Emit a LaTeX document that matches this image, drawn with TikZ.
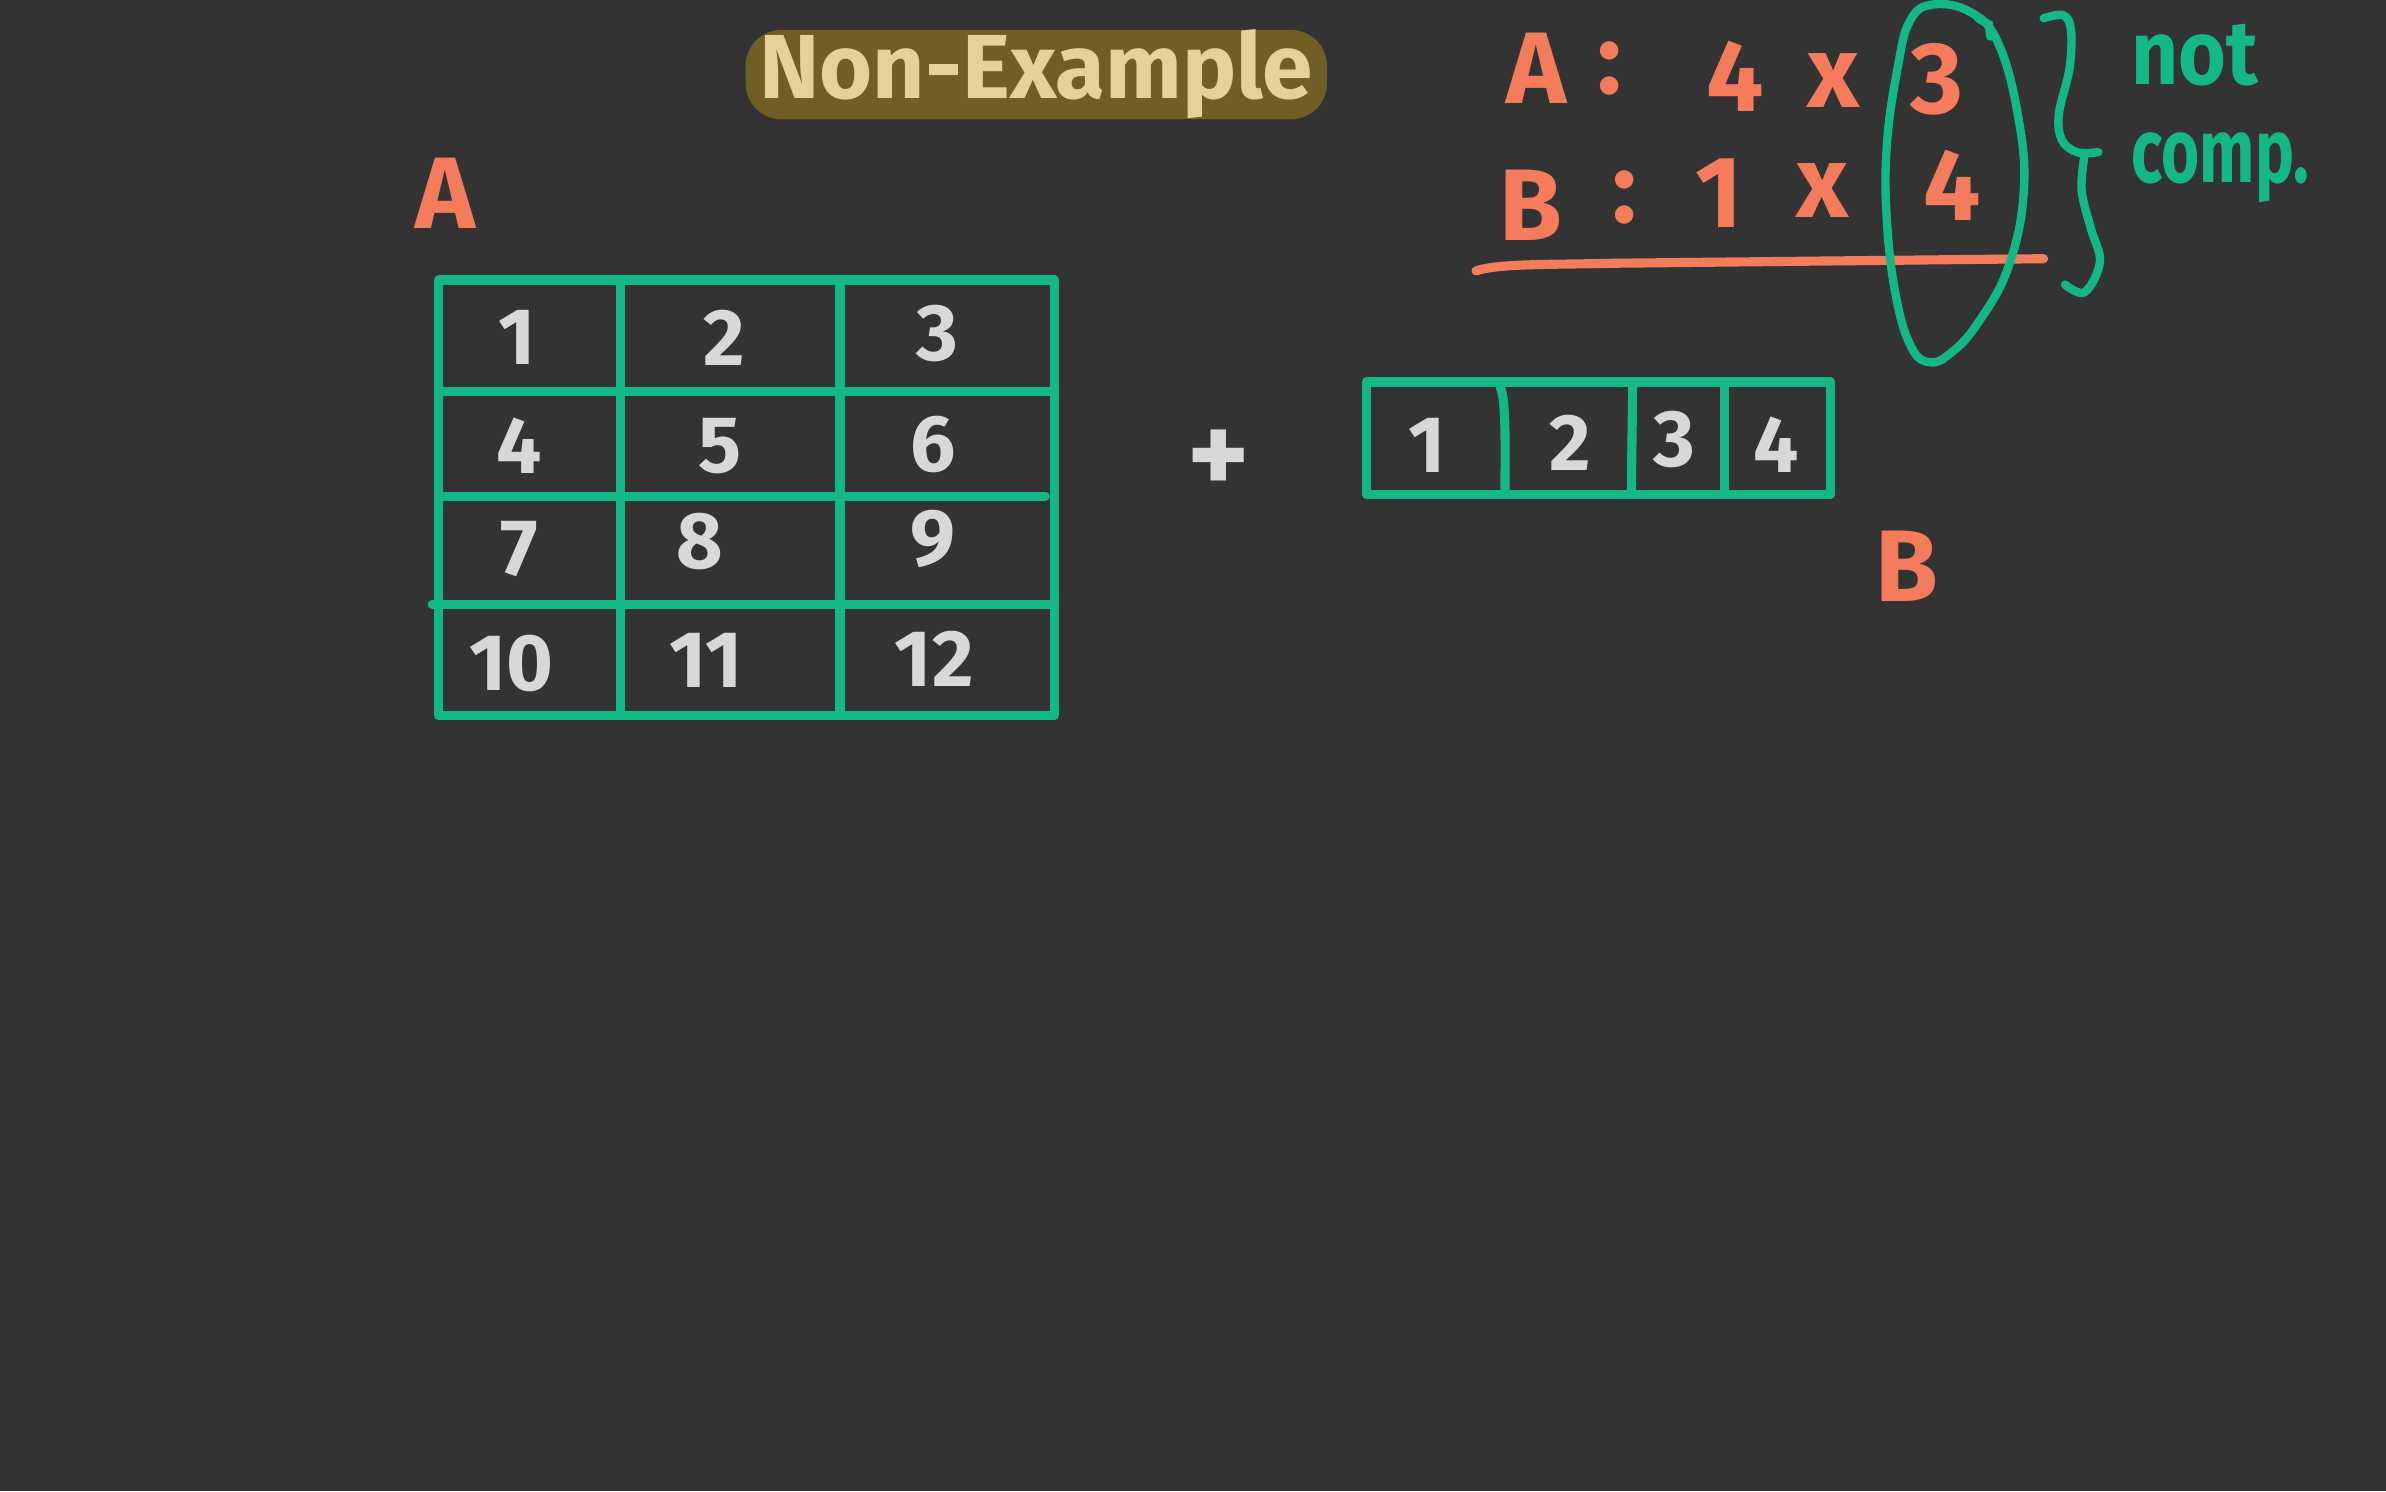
\documentclass[tikz,border=0pt]{standalone}
\usepackage{fontspec}
\setmainfont{Fira Sans}
\definecolor{bg}{HTML}{333333}
\definecolor{grn}{HTML}{14B886}
\definecolor{org}{HTML}{F47B5B}
\definecolor{chalk}{HTML}{D8D8D8}
\definecolor{pill}{HTML}{6F5F24}
\definecolor{pilltxt}{HTML}{E3D399}
\tikzset{
  gridline/.style={draw=grn, line width=0.6mm, line cap=round, line join=round},
  num/.style={text=chalk, font=\fontsize{15pt}{17pt}\selectfont\bfseries, inner sep=0pt},
  lbl/.style={text=org, font=\fontsize{19pt}{21pt}\selectfont\bfseries, inner sep=0pt},
  note/.style={text=grn, font=\fontsize{17pt}{19pt}\selectfont\bfseries, inner sep=0pt, anchor=west},
}
\begin{document}
\begin{tikzpicture}[x=0.1mm,y=-0.1mm]
\fill[bg] (0,0) rectangle (1568,980);
\useasboundingbox (0,0) rectangle (1568,980);

% title
\node[fill=pill, rounded corners=2.35mm, minimum width=38.2mm, minimum height=4.7mm, inner sep=0pt,
      text=pilltxt, font=\fontsize{17pt}{19pt}\selectfont\bfseries] (title) at (681,49) {Non-Example};

% label A
\node[lbl] (labA) at (293,127) {A};

% grid A
\draw[gridline] (288,184) rectangle (693,470);
\draw[gridline] (408,184) -- (408,470);
\draw[gridline] (552,184) -- (552,470);
\draw[gridline] (288,257) -- (693,257);
\draw[gridline] (288,326) -- (687,326);
\draw[gridline] (284,397) -- (693,397);
\node[num] (a1) at (340,222) {1};
\node[num] (a2) at (476,222) {2};
\node[num] (a3) at (616,219) {3};
\node[num] (a4) at (341,293) {4};
\node[num] (a5) at (473,293) {5};
\node[num] (a6) at (613,292) {6};
\node[num] (a7) at (341,361) {7};
\node[num] (a8) at (460,356) {8};
\node[num] (a9) at (613,354) {9};
\node[num] (a10) at (336,436) {10};
\node[num] (a11) at (464,434) {11};
\node[num] (a12) at (614,433) {12};

% plus
\node[num, font=\fontsize{22pt}{24pt}\selectfont\bfseries] (plus) at (801,304) {+};

% grid B
\draw[gridline] (898,251) rectangle (1203,325);
\draw[gridline] (986,255) .. controls (990,262) and (989,300) .. (989,325);
\draw[gridline] (1073,251) -- (1072,325);
\draw[gridline] (1133,251) -- (1133,325);
\node[num] (b1) at (938,293) {1};
\node[num] (b2) at (1032,291) {2};
\node[num] (b3) at (1100,289) {3};
\node[num] (b4) at (1167,292) {4};

% label B
\node[lbl] (labB) at (1253,372) {B};

% dimension notes
\node[lbl] (nA) at (1010,45) {A};
\node[lbl] (nAc) at (1058,45) {:};
\node[lbl] (nA4) at (1140,50) {4};
\node[lbl] (nAx) at (1205,53) {x};
\node[lbl] (nA3) at (1273,52) {3};
\node[lbl] (nB) at (1006,135) {B};
\node[lbl] (nBc) at (1068,130) {:};
\node[lbl] (nB1) at (1130,127) {1};
\node[lbl] (nBx) at (1198,125) {x};
\node[lbl] (nB4) at (1283,122) {4};

% underline
\draw[org, line width=0.6mm, line cap=round]
  (970,178) .. controls (985,173) and (1020,174) .. (1060,173)
  -- (1343,170);

% ellipse around columns
\draw[grn, line width=0.55mm, line cap=round, line join=round]
  plot[smooth cycle, tension=0.7] coordinates {
    (1270,3) (1295,8) (1313,28) (1326,75) (1330,125) (1320,175)
    (1300,212) (1282,232) (1268,238) (1256,228) (1246,195) (1240,145)
    (1240,95) (1247,45) (1255,14)};
\draw[grn, line width=0.55mm, line cap=round] (1300,12) -- (1307,16) -- (1308,24);

% brace
\draw[grn, line width=0.55mm, line cap=round, line join=round]
  plot[smooth, tension=0.6] coordinates {
    (1343,12) (1356,10) (1361,20) (1360,45) (1353,75) (1355,92) (1365,100) (1379,100)};
\draw[grn, line width=0.55mm, line cap=round, line join=round]
  plot[smooth, tension=0.6] coordinates {
    (1370,101) (1368,125) (1374,150) (1380,172) (1370,192) (1357,187)};

% not comp.
\node[note] (not) at (1400,36) {\scalebox{0.9}[1]{not}};
\node[note] (comp) at (1400,110) {\scalebox{0.72}[1]{comp.}};
\end{tikzpicture}
\end{document}
